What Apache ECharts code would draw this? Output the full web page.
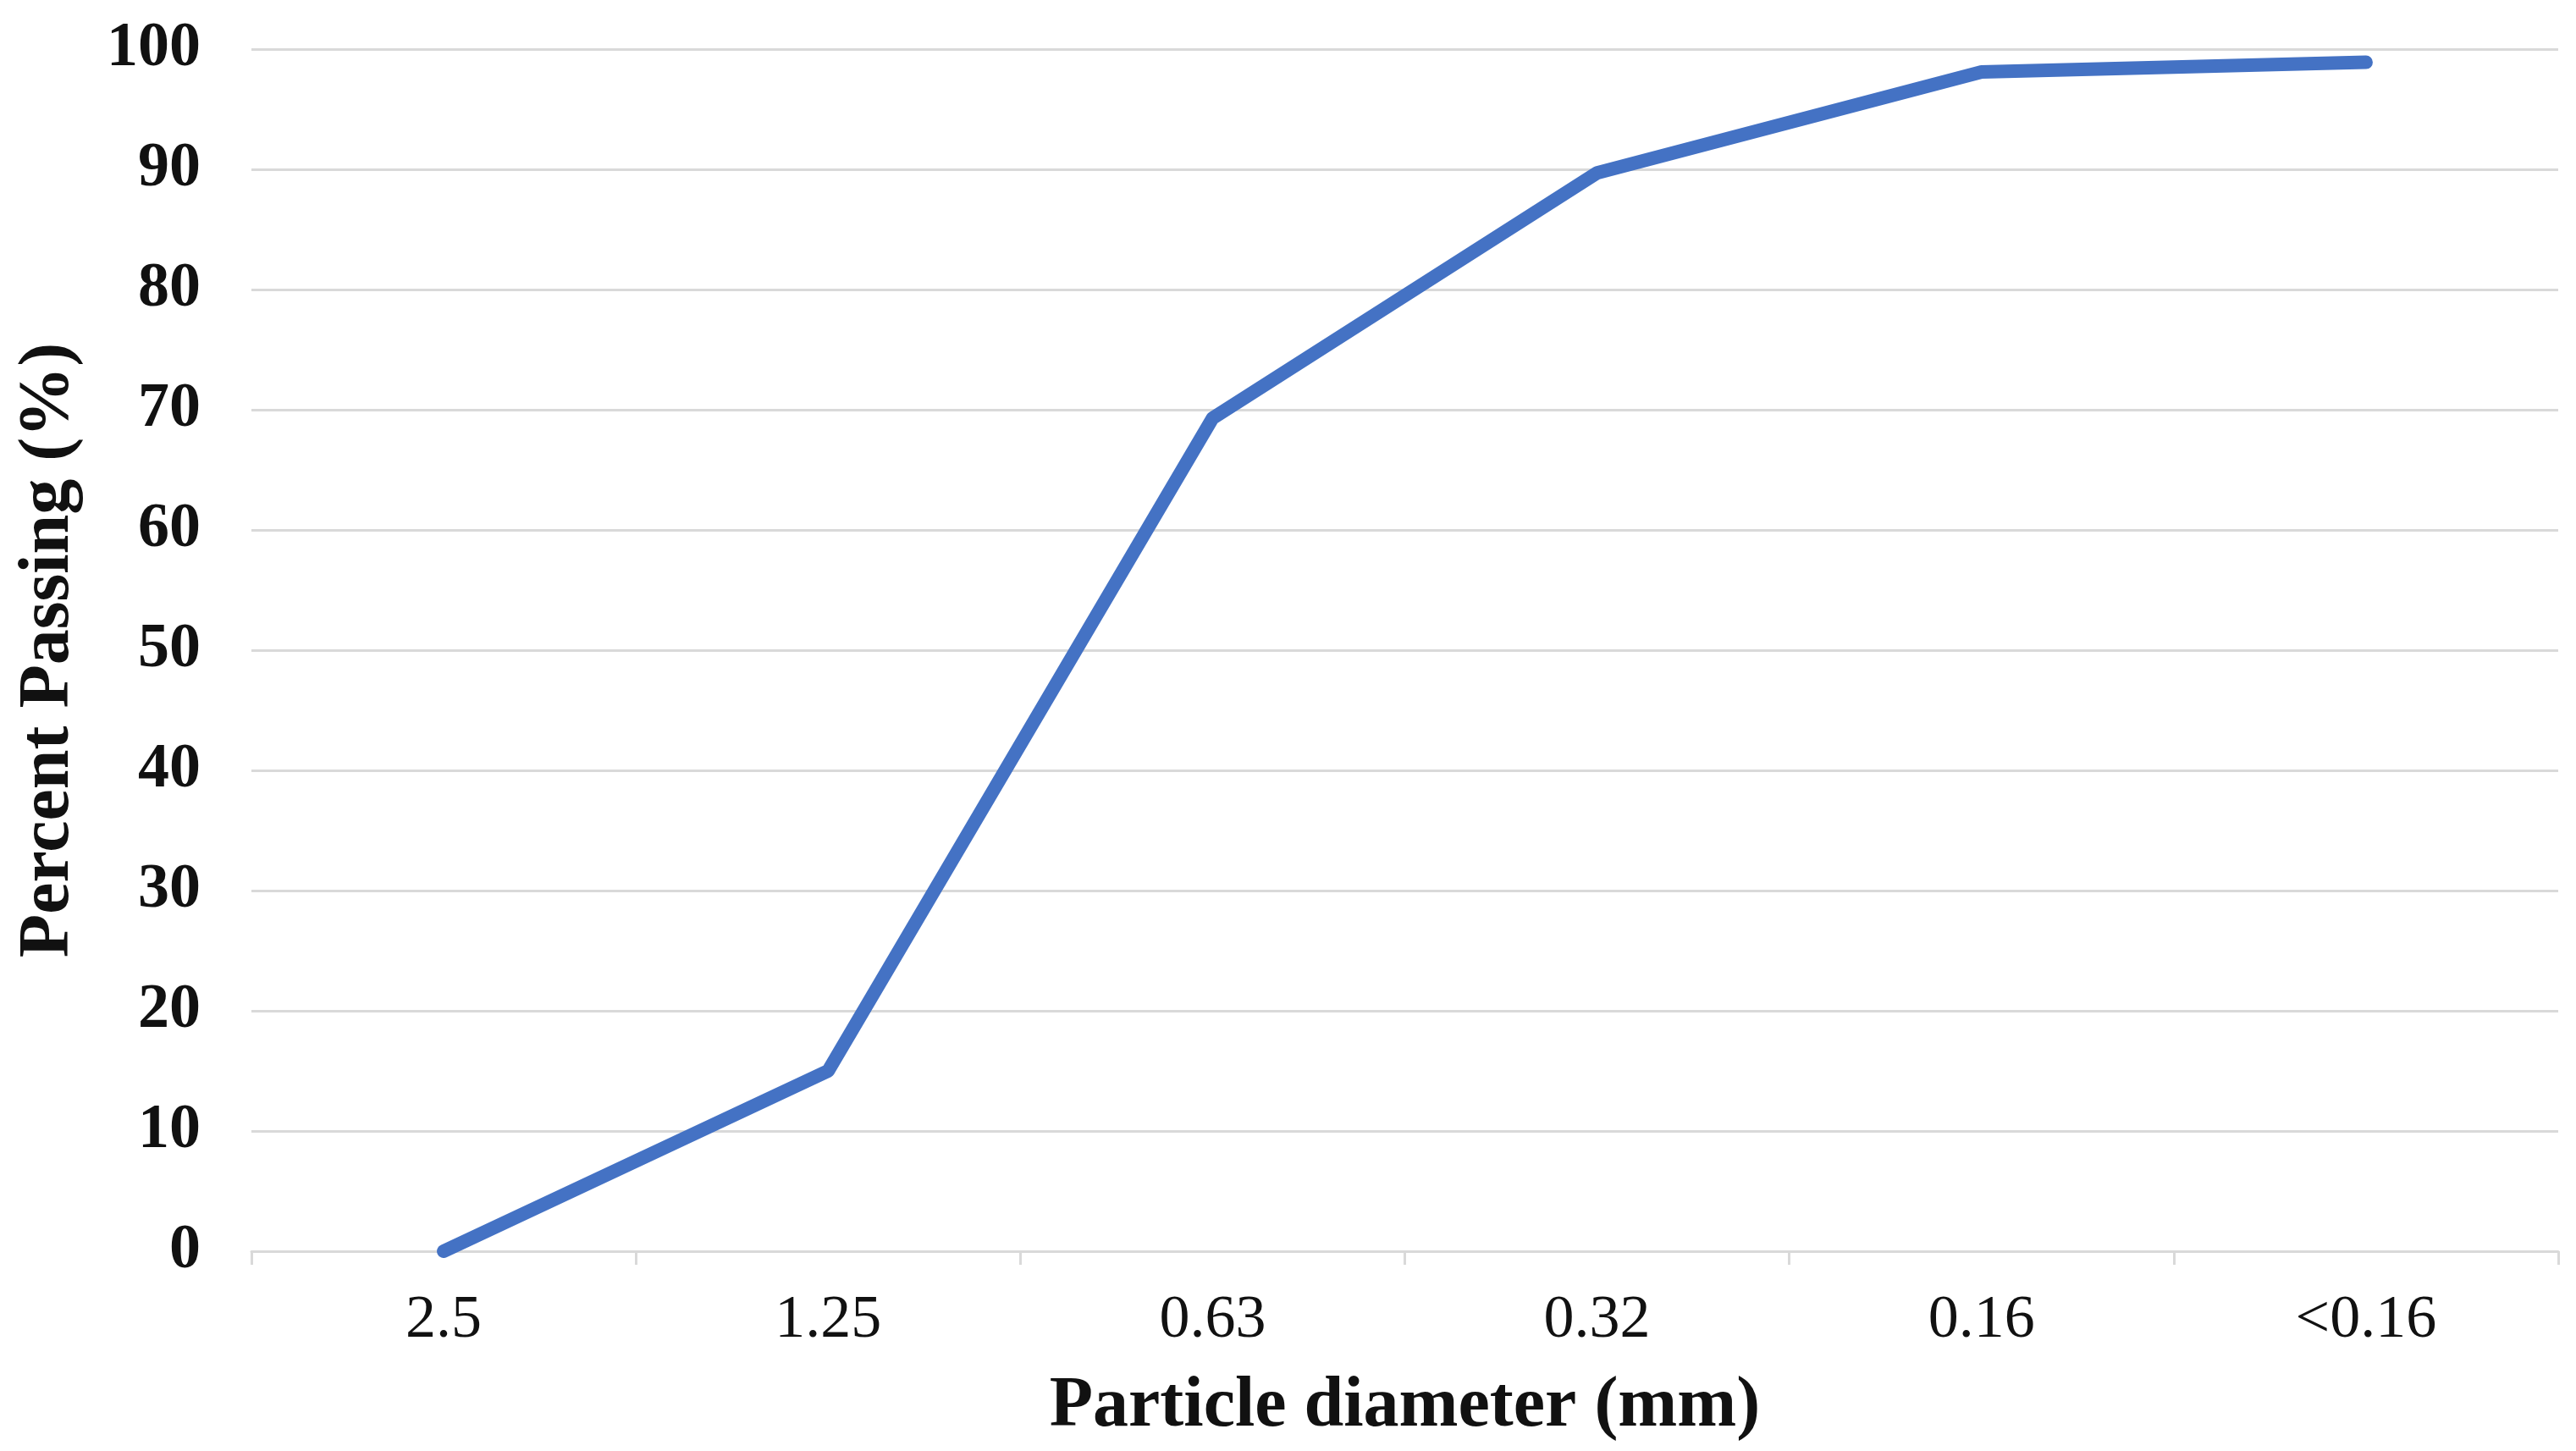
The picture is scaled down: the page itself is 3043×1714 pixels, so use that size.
<!DOCTYPE html>
<html>
<head>
<meta charset="utf-8">
<script src="https://cdn.jsdelivr.net/npm/echarts@6/dist/echarts.min.js"></script>
<style>
html,body{margin:0;padding:0;background:#fff;overflow:hidden;}
#chart{width:3043px;height:1714px;}
</style>
</head>
<body>
<div id="chart"></div>
<script>
const categories = ['2.5', '1.25', '0.63', '0.32', '0.16', '<0.16'];
const percentPassing = [0, 15, 69.3, 89.7, 98.1, 98.9];
const yTicks = [0, 10, 20, 30, 40, 50, 60, 70, 80, 90, 100];

const serif = '"Liberation Serif", "DejaVu Serif", serif';
const chart = echarts.init(document.getElementById('chart'), null, {renderer: 'canvas'});
chart.setOption({
  animation: false,
  backgroundColor: '#ffffff',
  grid: {left: 297, right: 21, top: 58, bottom: 236, containLabel: false},
  xAxis: {
    type: 'category',
    data: categories,
    boundaryGap: true,
    name: 'Particle diameter (mm)',
    nameLocation: 'middle',
    nameGap: 142,
    nameTextStyle: {fontFamily: serif, fontWeight: 'bold', fontSize: 84, color: '#111'},
    axisLine: {show: true, lineStyle: {color: '#d9d9d9', width: 3}},
    axisTick: {show: true, length: 16, alignWithLabel: false, lineStyle: {color: '#d9d9d9', width: 3}},
    axisLabel: {fontFamily: serif, fontSize: 72, color: '#111', margin: 46},
    splitLine: {show: false}
  },
  yAxis: {
    type: 'value',
    min: yTicks[0],
    max: yTicks[yTicks.length - 1],
    interval: 10,
    name: 'Percent Passing (%)',
    nameLocation: 'middle',
    nameGap: 197,
    nameRotate: 90,
    nameTextStyle: {fontFamily: serif, fontWeight: 'bold', fontSize: 84, color: '#111'},
    axisLine: {show: false},
    axisTick: {show: false},
    axisLabel: {fontFamily: serif, fontWeight: 'bold', fontSize: 74, color: '#111', margin: 60},
    splitLine: {show: true, lineStyle: {color: '#d9d9d9', width: 3}}
  },
  series: [{
    type: 'line',
    data: percentPassing,
    showSymbol: false,
    symbol: 'none',
    lineStyle: {color: '#4472C4', width: 16, cap: 'round', join: 'round'},
    itemStyle: {color: '#4472C4'}
  }]
});
</script>
</body>
</html>
